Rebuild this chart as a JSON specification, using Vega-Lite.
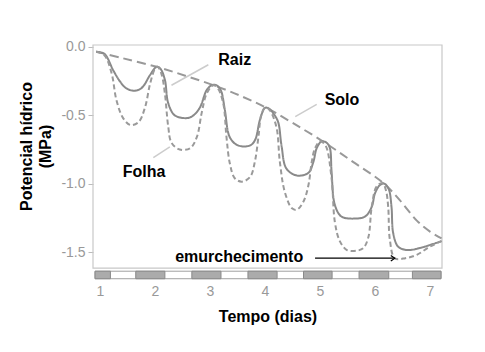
{
  "$schema": "https://vega.github.io/schema/vega-lite/v6.json",
  "width": 349,
  "height": 234,
  "autosize": {"type": "none"},
  "padding": {"left": 93, "top": 45, "right": 43, "bottom": 73},
  "background": "white",
  "config": {"view": {"stroke": null}, "font": "Liberation Sans"},
  "datasets": {
    "curves": [
      {"s": "Solo", "x": 0.93, "y": -0.035}, {"s": "Solo", "x": 1.42, "y": -0.083}, {"s": "Solo", "x": 2.03, "y": -0.145},
      {"s": "Solo", "x": 2.55, "y": -0.21}, {"s": "Solo", "x": 3.1, "y": -0.285}, {"s": "Solo", "x": 3.6, "y": -0.365},
      {"s": "Solo", "x": 4.05, "y": -0.45}, {"s": "Solo", "x": 4.5, "y": -0.555}, {"s": "Solo", "x": 5.05, "y": -0.69},
      {"s": "Solo", "x": 5.6, "y": -0.84}, {"s": "Solo", "x": 6.15, "y": -0.995}, {"s": "Solo", "x": 6.45, "y": -1.12},
      {"s": "Solo", "x": 6.76, "y": -1.27}, {"s": "Solo", "x": 7.0, "y": -1.35}, {"s": "Solo", "x": 7.21, "y": -1.40},

      {"s": "Raiz", "x": 0.93, "y": -0.035}, {"s": "Raiz", "x": 1.08, "y": -0.05}, {"s": "Raiz", "x": 1.24, "y": -0.17},
      {"s": "Raiz", "x": 1.36, "y": -0.25}, {"s": "Raiz", "x": 1.47, "y": -0.30}, {"s": "Raiz", "x": 1.61, "y": -0.32},
      {"s": "Raiz", "x": 1.72, "y": -0.31}, {"s": "Raiz", "x": 1.80, "y": -0.28}, {"s": "Raiz", "x": 1.91, "y": -0.205},
      {"s": "Raiz", "x": 2.03, "y": -0.145}, {"s": "Raiz", "x": 2.10, "y": -0.16}, {"s": "Raiz", "x": 2.18, "y": -0.24},
      {"s": "Raiz", "x": 2.24, "y": -0.41}, {"s": "Raiz", "x": 2.36, "y": -0.50}, {"s": "Raiz", "x": 2.58, "y": -0.52},
      {"s": "Raiz", "x": 2.70, "y": -0.50}, {"s": "Raiz", "x": 2.82, "y": -0.44}, {"s": "Raiz", "x": 2.94, "y": -0.315},
      {"s": "Raiz", "x": 3.03, "y": -0.28}, {"s": "Raiz", "x": 3.12, "y": -0.28}, {"s": "Raiz", "x": 3.20, "y": -0.32},
      {"s": "Raiz", "x": 3.27, "y": -0.46}, {"s": "Raiz", "x": 3.36, "y": -0.66}, {"s": "Raiz", "x": 3.51, "y": -0.72},
      {"s": "Raiz", "x": 3.73, "y": -0.72}, {"s": "Raiz", "x": 3.82, "y": -0.68}, {"s": "Raiz", "x": 3.91, "y": -0.53},
      {"s": "Raiz", "x": 4.0, "y": -0.445}, {"s": "Raiz", "x": 4.07, "y": -0.45}, {"s": "Raiz", "x": 4.16, "y": -0.49},
      {"s": "Raiz", "x": 4.24, "y": -0.55}, {"s": "Raiz", "x": 4.30, "y": -0.72}, {"s": "Raiz", "x": 4.39, "y": -0.89},
      {"s": "Raiz", "x": 4.58, "y": -0.94}, {"s": "Raiz", "x": 4.79, "y": -0.92}, {"s": "Raiz", "x": 4.88, "y": -0.84},
      {"s": "Raiz", "x": 4.94, "y": -0.74}, {"s": "Raiz", "x": 5.03, "y": -0.69}, {"s": "Raiz", "x": 5.12, "y": -0.70},
      {"s": "Raiz", "x": 5.18, "y": -0.74}, {"s": "Raiz", "x": 5.21, "y": -0.91}, {"s": "Raiz", "x": 5.27, "y": -1.155},
      {"s": "Raiz", "x": 5.39, "y": -1.24}, {"s": "Raiz", "x": 5.64, "y": -1.255}, {"s": "Raiz", "x": 5.82, "y": -1.24},
      {"s": "Raiz", "x": 5.94, "y": -1.17}, {"s": "Raiz", "x": 6.0, "y": -1.07}, {"s": "Raiz", "x": 6.09, "y": -1.01},
      {"s": "Raiz", "x": 6.17, "y": -1.0}, {"s": "Raiz", "x": 6.25, "y": -1.04}, {"s": "Raiz", "x": 6.30, "y": -1.17},
      {"s": "Raiz", "x": 6.33, "y": -1.36}, {"s": "Raiz", "x": 6.42, "y": -1.46}, {"s": "Raiz", "x": 6.58, "y": -1.485},
      {"s": "Raiz", "x": 6.82, "y": -1.47}, {"s": "Raiz", "x": 7.06, "y": -1.44}, {"s": "Raiz", "x": 7.21, "y": -1.42},

      {"s": "Folha", "x": 0.93, "y": -0.035}, {"s": "Folha", "x": 1.08, "y": -0.06}, {"s": "Folha", "x": 1.21, "y": -0.19},
      {"s": "Folha", "x": 1.30, "y": -0.39}, {"s": "Folha", "x": 1.42, "y": -0.52}, {"s": "Folha", "x": 1.55, "y": -0.57},
      {"s": "Folha", "x": 1.70, "y": -0.55}, {"s": "Folha", "x": 1.82, "y": -0.44}, {"s": "Folha", "x": 1.91, "y": -0.27},
      {"s": "Folha", "x": 2.0, "y": -0.16}, {"s": "Folha", "x": 2.05, "y": -0.145}, {"s": "Folha", "x": 2.12, "y": -0.20},
      {"s": "Folha", "x": 2.18, "y": -0.34}, {"s": "Folha", "x": 2.24, "y": -0.58}, {"s": "Folha", "x": 2.30, "y": -0.70},
      {"s": "Folha", "x": 2.45, "y": -0.75}, {"s": "Folha", "x": 2.64, "y": -0.74}, {"s": "Folha", "x": 2.76, "y": -0.66},
      {"s": "Folha", "x": 2.85, "y": -0.48}, {"s": "Folha", "x": 2.94, "y": -0.34}, {"s": "Folha", "x": 3.06, "y": -0.28},
      {"s": "Folha", "x": 3.14, "y": -0.30}, {"s": "Folha", "x": 3.24, "y": -0.41}, {"s": "Folha", "x": 3.30, "y": -0.66},
      {"s": "Folha", "x": 3.36, "y": -0.85}, {"s": "Folha", "x": 3.45, "y": -0.96}, {"s": "Folha", "x": 3.58, "y": -0.985},
      {"s": "Folha", "x": 3.73, "y": -0.95}, {"s": "Folha", "x": 3.82, "y": -0.83}, {"s": "Folha", "x": 3.88, "y": -0.66},
      {"s": "Folha", "x": 3.94, "y": -0.485}, {"s": "Folha", "x": 4.02, "y": -0.44}, {"s": "Folha", "x": 4.10, "y": -0.47},
      {"s": "Folha", "x": 4.21, "y": -0.59}, {"s": "Folha", "x": 4.27, "y": -0.84}, {"s": "Folha", "x": 4.36, "y": -1.06},
      {"s": "Folha", "x": 4.49, "y": -1.18}, {"s": "Folha", "x": 4.58, "y": -1.19}, {"s": "Folha", "x": 4.70, "y": -1.13},
      {"s": "Folha", "x": 4.79, "y": -1.01}, {"s": "Folha", "x": 4.85, "y": -0.84}, {"s": "Folha", "x": 4.91, "y": -0.74},
      {"s": "Folha", "x": 5.0, "y": -0.69}, {"s": "Folha", "x": 5.1, "y": -0.72}, {"s": "Folha", "x": 5.21, "y": -0.96},
      {"s": "Folha", "x": 5.27, "y": -1.28}, {"s": "Folha", "x": 5.36, "y": -1.42}, {"s": "Folha", "x": 5.49, "y": -1.485},
      {"s": "Folha", "x": 5.67, "y": -1.49}, {"s": "Folha", "x": 5.79, "y": -1.47}, {"s": "Folha", "x": 5.88, "y": -1.39},
      {"s": "Folha", "x": 5.94, "y": -1.17}, {"s": "Folha", "x": 6.03, "y": -1.02}, {"s": "Folha", "x": 6.14, "y": -0.995},
      {"s": "Folha", "x": 6.2, "y": -1.05}, {"s": "Folha", "x": 6.24, "y": -1.17}, {"s": "Folha", "x": 6.27, "y": -1.41},
      {"s": "Folha", "x": 6.36, "y": -1.545}, {"s": "Folha", "x": 6.55, "y": -1.545}, {"s": "Folha", "x": 6.76, "y": -1.52},
      {"s": "Folha", "x": 7.0, "y": -1.46}, {"s": "Folha", "x": 7.21, "y": -1.42}
    ],
    "frame": [{"x": 0.873, "x2": 7.218, "y": -1.617, "y2": 0.0146}],
    "strip": [{"x": 0.91, "x2": 7.2, "y": -1.64, "y2": -1.695}],
    "nights": [
      {"x": 0.91, "x2": 1.19, "y": -1.64, "y2": -1.695},
      {"x": 1.65, "x2": 2.18, "y": -1.64, "y2": -1.695},
      {"x": 2.67, "x2": 3.2, "y": -1.64, "y2": -1.695},
      {"x": 3.69, "x2": 4.22, "y": -1.64, "y2": -1.695},
      {"x": 4.70, "x2": 5.22, "y": -1.64, "y2": -1.695},
      {"x": 5.71, "x2": 6.25, "y": -1.64, "y2": -1.695},
      {"x": 6.68, "x2": 7.2, "y": -1.64, "y2": -1.695}
    ],
    "leaders": [
      {"x": 2.97, "y": -0.13, "x2": 2.30, "y2": -0.28},
      {"x": 4.94, "y": -0.42, "x2": 4.55, "y2": -0.51},
      {"x": 2.27, "y": -0.73, "x2": 1.97, "y2": -0.81}
    ],
    "labels": [
      {"x": 3.45, "y": -0.132, "t": "Raiz"},
      {"x": 5.40, "y": -0.424, "t": "Solo"},
      {"x": 1.80, "y": -0.953, "t": "Folha"},
      {"x": 3.53, "y": -1.571, "t": "emurchecimento"}
    ],
    "arrow": [{"x": 4.91, "x2": 6.34, "y": -1.545}],
    "arrowhead": [{"x": 6.36, "y": -1.545}]
  },
  "encoding": {
    "x": {
      "field": "x", "type": "quantitative",
      "scale": {"domain": [0.873, 7.218], "nice": false, "zero": false},
      "axis": {
        "values": [1, 2, 3, 4, 5, 6, 7], "format": "d", "grid": false, "domain": false, "ticks": false,
        "labelFont": "Liberation Sans", "labelFontSize": 14, "labelColor": "#999999", "labelPadding": 5,
        "title": "Tempo (dias)", "titleFont": "Liberation Sans", "titleFontSize": 16, "titleFontWeight": "bold",
        "titleColor": "#000000", "titlePadding": 10
      }
    },
    "y": {
      "field": "y", "type": "quantitative",
      "scale": {"domain": [-1.697, 0.0146], "nice": false, "zero": false},
      "axis": {
        "values": [-1.5, -1.0, -0.5, 0.0], "grid": false, "domain": false,
        "labelExpr": "replace(format(datum.value, '.1f'), '\u2212', '-')",
        "labelFont": "Liberation Sans", "labelFontSize": 14, "labelColor": "#999999", "labelPadding": 3,
        "tickColor": "#bbbbbb", "tickSize": 5,
        "title": ["Potencial hídrico", "(MPa)"], "titleFont": "Liberation Sans", "titleFontSize": 16,
        "titleFontWeight": "bold", "titleColor": "#000000", "titleLineHeight": 19,
        "titleX": -67, "titleY": 101, "titleAngle": -90, "titleAlign": "center", "titleBaseline": "middle"
      }
    }
  },
  "layer": [
    {
      "data": {"name": "frame"},
      "mark": {"type": "rect", "fill": null, "stroke": "#c8c8c8", "strokeWidth": 1.2},
      "encoding": {"x2": {"field": "x2"}, "y2": {"field": "y2"}}
    },
    {
      "data": {"name": "strip"},
      "mark": {"type": "rect", "fill": "#ffffff", "stroke": "#a0a0a0", "strokeWidth": 1},
      "encoding": {"x2": {"field": "x2"}, "y2": {"field": "y2"}}
    },
    {
      "data": {"name": "nights"},
      "mark": {"type": "rect", "fill": "#ababab", "stroke": "#8a8a8a", "strokeWidth": 1},
      "encoding": {"x2": {"field": "x2"}, "y2": {"field": "y2"}}
    },
    {
      "data": {"name": "leaders"},
      "mark": {"type": "rule", "stroke": "#cccccc", "strokeWidth": 1.5},
      "encoding": {"x2": {"field": "x2"}, "y2": {"field": "y2"}}
    },
    {
      "data": {"name": "curves"},
      "mark": {"type": "line", "interpolate": "catmull-rom", "strokeWidth": 2},
      "encoding": {
        "detail": {"field": "s"},
        "color": {"field": "s", "type": "nominal", "legend": null,
          "scale": {"domain": ["Solo", "Raiz", "Folha"], "range": ["#999999", "#8a8a8a", "#9a9a9a"]}},
        "strokeDash": {"field": "s", "type": "nominal", "legend": null,
          "scale": {"domain": ["Solo", "Raiz", "Folha"], "range": [[9, 5], [1, 0], [5, 3]]}}
      }
    },
    {
      "data": {"name": "arrow"},
      "mark": {"type": "rule", "stroke": "#000000", "strokeWidth": 1.2},
      "encoding": {"x2": {"field": "x2"}}
    },
    {
      "data": {"name": "arrowhead"},
      "mark": {"type": "point", "shape": "M -1 -0.7 L 0 0 L -1 0.7", "filled": false, "stroke": "#000000", "strokeWidth": 1.2, "size": 64, "opacity": 1}
    },
    {
      "data": {"name": "labels"},
      "mark": {"type": "text", "font": "Liberation Sans", "fontSize": 16, "fontWeight": "bold", "color": "#000000", "align": "center", "baseline": "alphabetic"},
      "encoding": {"text": {"field": "t"}}
    }
  ]
}
